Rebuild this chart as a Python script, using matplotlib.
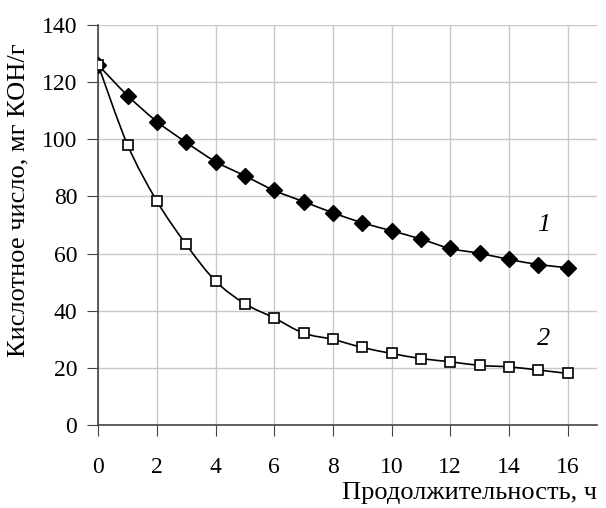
import matplotlib
matplotlib.use("Agg")
import matplotlib.pyplot as plt
import numpy as np
from matplotlib.path import Path
from matplotlib.patches import PathPatch

hours = [0, 1, 2, 3, 4, 5, 6, 7, 8, 9, 10, 11, 12, 13, 14, 15, 16]
acid_1 = [126, 115.3, 106.2, 98.9, 92.2, 87.2, 82.1, 78.2, 74.3, 70.8, 68.0, 65.1, 61.8, 60.1, 58.0, 56.2, 55.1]
acid_2 = [126, 98.1, 78.4, 63.2, 50.4, 42.5, 37.5, 32.2, 30.0, 27.2, 25.1, 23.3, 22.2, 20.9, 20.4, 19.3, 18.1]
x_ticks = [0, 2, 4, 6, 8, 10, 12, 14, 16]
y_ticks = [0, 20, 40, 60, 80, 100, 120, 140]

plt.rcParams["font.family"] = ["Liberation Serif", "DejaVu Serif"]


def smooth_path(x, y, t=1 / 6):
    """Bezier curve through the points, like a spreadsheet's smoothed line."""
    x = np.asarray(x, float)
    y = np.asarray(y, float)
    n = len(x)
    verts = [(x[0], y[0])]
    codes = [Path.MOVETO]
    for i in range(n - 1):
        p0 = (x[max(i - 1, 0)], y[max(i - 1, 0)])
        p3 = (x[min(i + 2, n - 1)], y[min(i + 2, n - 1)])
        c1 = (x[i] + (x[i + 1] - p0[0]) * t, y[i] + (y[i + 1] - p0[1]) * t)
        c2 = (x[i + 1] - (p3[0] - x[i]) * t, y[i + 1] - (p3[1] - y[i]) * t)
        verts += [c1, c2, (x[i + 1], y[i + 1])]
        codes += [Path.CURVE4] * 3
    return Path(verts, codes)


fig = plt.figure(figsize=(6.06, 5.08), dpi=100)
ax = fig.add_axes([0.162, 0.163, 0.823, 0.788])

for ys in (acid_1, acid_2):
    ax.add_patch(PathPatch(smooth_path(hours, ys), fill=False, lw=1.2, color="black", zorder=3))
ax.plot(hours, acid_1, ls="none", marker="D", ms=8, mfc="black", mec="black", zorder=4)
ax.plot(hours, acid_2, ls="none", marker="s", ms=7, mfc="white", mec="black", mew=1.2, zorder=4)

ax.text(15.2, 70, "1", fontsize=19, style="italic", ha="center", va="center")
ax.text(15.2, 30, "2", fontsize=19, style="italic", ha="center", va="center")

ax.set_xlim(0, 17)
ax.set_ylim(0, 140)
ax.set_xticks(x_ticks)
ax.set_yticks(y_ticks)
ax.grid(True, color="#c8c8c8", lw=1)
ax.set_axisbelow(True)
for side in ("top", "right"):
    ax.spines[side].set_visible(False)
for side in ("left", "bottom"):
    ax.spines[side].set_color("#444444")
    ax.spines[side].set_linewidth(1.2)
ax.tick_params(axis="x", direction="out", length=8, pad=15, labelsize=17, color="#444444")
ax.tick_params(axis="y", direction="out", length=8, pad=7, labelsize=17, color="#444444")

fig.text(0.031, 0.606, "Кислотное число, мг КОН/г", fontsize=19, rotation=90,
         ha="center", va="center")
fig.text(0.985, 0.030, "Продолжительность, ч", fontsize=19, ha="right", va="center")

fig.savefig("out.png", dpi=100)
